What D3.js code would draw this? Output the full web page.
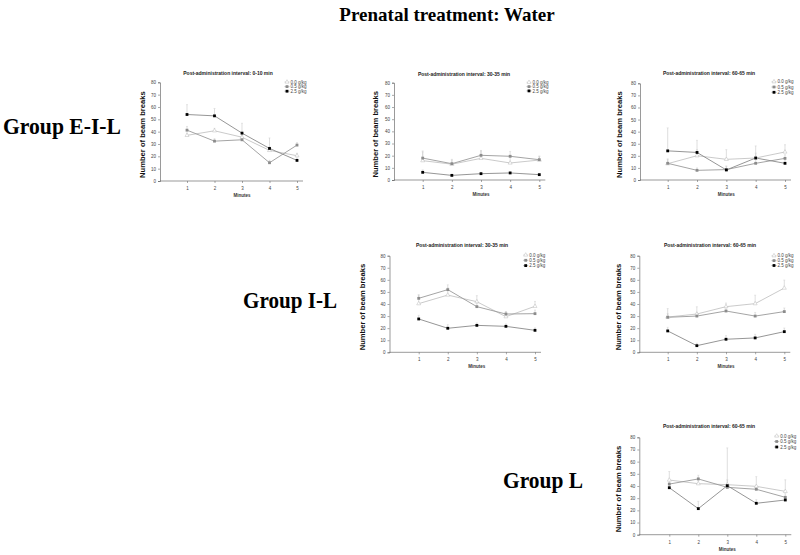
<!DOCTYPE html>
<html><head><meta charset="utf-8">
<script src="https://cdn.jsdelivr.net/npm/d3@7"></script>
<style>body{margin:0;background:#fff}svg{display:block}</style>
</head><body>
<svg id="c" width="800" height="555"></svg>
<script>
// ---- data ----
const minutes = [1, 2, 3, 4, 5];
const doses = ["0.0 g/kg", "0.5 g/kg", "2.5 g/kg"];
const yTicks = [0, 10, 20, 30, 40, 50, 60, 70, 80];
const mainTitle = "Prenatal treatment: Water";
const groups = ["Group E-I-L", "Group I-L", "Group L"];
const intervals = ["Post-administration interval: 0-10 min", "Post-administration interval: 30-35 min", "Post-administration interval: 60-65 min"];

// Group E-I-L, 0-10 min
const eil010_d00 = [37, 40.7, 35.5, 24.8, 20.5];
const eil010_d05 = [41.2, 32.3, 33.4, 14.8, 29.1];
const eil010_d25 = [53.9, 52.8, 38.8, 26.4, 16.7];
const eil010_e00 = [2, 2, 2, 3, 2];
const eil010_e05 = [3, 2, 2, 2, 2];
const eil010_e25 = [8, 6, 8, 8.5, 2];
// Group E-I-L, 30-35 min
const eil3035_d00 = [15.9, 13, 17.8, 14, 16.4];
const eil3035_d05 = [18, 13.4, 20.3, 19.5, 16.7];
const eil3035_d25 = [6.3, 3.8, 5.2, 5.8, 4.4];
const eil3035_e00 = [8, 4, 6, 5, 3];
const eil3035_e05 = [5, 3, 4, 4, 3];
const eil3035_e25 = [2, 1, 1, 1, 1];
// Group E-I-L, 60-65 min
const eil6065_d00 = [13.5, 20.1, 17.1, 18.2, 23.2];
const eil6065_d05 = [13.8, 8, 8.6, 13.8, 17.9];
const eil6065_d25 = [24.1, 22.8, 8.3, 18.2, 13.8];
const eil6065_e00 = [4, 5, 8, 10, 6];
const eil6065_e05 = [3, 2, 3, 3, 3];
const eil6065_e25 = [19, 10, 3, 4, 3];
// Group I-L, 30-35 min
const il3035_d00 = [40.3, 47.4, 41.9, 29.5, 38.1];
const il3035_d05 = [44.7, 51.9, 37.8, 31.7, 32];
const il3035_d25 = [27.6, 19.9, 22.3, 21.5, 18.2];
const il3035_e00 = [7, 6, 5, 4, 4];
const il3035_e05 = [3, 4, 3, 2, 3];
const il3035_e25 = [3, 3, 2, 2, 2];
// Group I-L, 60-65 min
const il6065_d00 = [29.2, 31.7, 37.8, 40.3, 53.2];
const il6065_d05 = [29, 30, 34.2, 30, 33.7];
const il6065_d25 = [17.7, 5.5, 10.8, 11.9, 17.1];
const il6065_e00 = [7, 6, 3, 7, 6.6];
const il6065_e05 = [3, 3, 3, 3, 3];
const il6065_e25 = [3, 2, 3, 3, 3];
// Group L, 60-65 min
const l6065_d00 = [44.9, 41.9, 41.1, 39.7, 35.6];
const l6065_d05 = [41.6, 45.8, 38.9, 37.3, 30.7];
const l6065_d25 = [38.6, 21.4, 40.3, 25.8, 28.5];
const l6065_e00 = [7, 5, 4, 8, 9.5];
const l6065_e05 = [3, 3, 3, 3, 3];
const l6065_e25 = [3, 6, 31, 3, 3];

// ---- drawing ----
const svg = d3.select("#c");
const serif = "'Liberation Serif','Times New Roman',serif";
const sans = "'Liberation Sans',Arial,sans-serif";

svg.append("text").attr("x", 447).attr("y", 21).attr("text-anchor", "middle")
  .attr("font-family", serif).attr("font-weight", "bold").attr("font-size", 19)
  .text(mainTitle);

const groupPos = [[3, 134, 118], [243, 308, 94], [503, 488, 80]];
groups.forEach((g, i) => {
  svg.append("text").attr("x", groupPos[i][0]).attr("y", groupPos[i][1])
    .attr("font-family", serif).attr("font-weight", "bold").attr("font-size", 23)
    .attr("textLength", groupPos[i][2]).attr("lengthAdjust", "spacingAndGlyphs")
    .text(g);
});

const lineCol = ["#c4c4c4", "#9a9a9a", "#8a8a8a"];
const errCol = "#d0d0d0";

function panel(p) {
  const g = svg.append("g");
  const x = d3.scaleLinear().domain([1, 5]).range([p.x1, p.x5]);
  const y = d3.scaleLinear().domain([0, 80]).range([p.y0, p.y80]);

  // y axis
  const ya = g.append("g").attr("transform", `translate(${p.ax},0)`)
    .call(d3.axisLeft(y).tickValues(yTicks).tickSize(2).tickPadding(2));
  ya.select(".domain").attr("stroke", "#555").attr("stroke-width", 0.6);
  ya.selectAll(".tick line").attr("stroke", "#555").attr("stroke-width", 0.5);
  ya.selectAll(".tick text").attr("font-size", 4.5).attr("font-family", sans).attr("fill", "#444");

  // x axis
  const xa = g.append("g").attr("transform", `translate(0,${p.y0})`)
    .call(d3.axisBottom(x).tickValues(minutes).tickSize(2).tickPadding(4).tickFormat(d3.format("d")));
  xa.select(".domain").remove();
  xa.append("line").attr("x1", p.ax).attr("x2", p.x5 + 6).attr("stroke", "#555").attr("stroke-width", 0.6);
  xa.selectAll(".tick line").attr("stroke", "#555").attr("stroke-width", 0.5);
  xa.selectAll(".tick text").attr("font-size", 4.5).attr("font-family", sans).attr("fill", "#444");

  // labels
  g.append("text").attr("x", p.tx).attr("y", p.ty).attr("text-anchor", "middle")
    .attr("font-family", sans).attr("font-weight", "bold").attr("font-size", 5).attr("fill", "#222")
    .text(p.title);
  g.append("text").attr("x", (p.x1 + p.x5) / 2).attr("y", p.y0 + 16).attr("text-anchor", "middle")
    .attr("font-family", sans).attr("font-weight", "bold").attr("font-size", 4.5).attr("fill", "#333")
    .text("Minutes");
  g.append("text").attr("transform", `translate(${p.lx},${(p.y0 + p.y80) / 2 + 3}) rotate(-90)`)
    .attr("text-anchor", "middle")
    .attr("font-family", sans).attr("font-weight", "bold").attr("font-size", 7.6).attr("fill", "#111")
    .text("Number of beam breaks");

  const line = d3.line().x((d, i) => x(minutes[i])).y(d => y(d));
  // error bars (upper)
  p.series.forEach((s, k) => {
    g.selectAll(null).data(s).enter().append("line")
      .attr("x1", (d, i) => x(minutes[i])).attr("x2", (d, i) => x(minutes[i]))
      .attr("y1", d => y(d)).attr("y2", (d, i) => y(d + p.errs[k][i]))
      .attr("stroke", errCol).attr("stroke-width", 0.7);
    g.selectAll(null).data(s).enter().append("line")
      .attr("x1", (d, i) => x(minutes[i]) - 1).attr("x2", (d, i) => x(minutes[i]) + 1)
      .attr("y1", (d, i) => y(d + p.errs[k][i])).attr("y2", (d, i) => y(d + p.errs[k][i]))
      .attr("stroke", errCol).attr("stroke-width", 0.5);
  });
  // lines
  p.series.forEach((s, k) => {
    g.append("path").datum(s).attr("d", line).attr("fill", "none")
      .attr("stroke", lineCol[k]).attr("stroke-width", 0.9);
  });
  // markers
  function marker(sel, k) {
    if (k === 0) {
      sel.append("path").attr("d", d3.symbol(d3.symbolTriangle, 7)())
        .attr("fill", "#fff").attr("stroke", "#bbb").attr("stroke-width", 0.5);
    } else {
      sel.append("rect").attr("x", -1.4).attr("y", -1.4).attr("width", 2.8).attr("height", 2.8)
        .attr("fill", k === 1 ? "#8c8c8c" : "#000");
    }
  }
  p.series.forEach((s, k) => {
    g.selectAll(null).data(s).enter().append("g")
      .attr("transform", (d, i) => `translate(${x(minutes[i])},${y(d)})`)
      .each(function () { marker(d3.select(this), k); });
  });
  // legend
  doses.forEach((d, k) => {
    const lg = g.append("g").attr("transform", `translate(${p.gx},${p.gy + k * p.gs})`);
    lg.append("line").attr("x1", -2.5).attr("x2", 2.5).attr("stroke", lineCol[k]).attr("stroke-width", 0.6);
    marker(lg, k);
    lg.append("text").attr("x", 3.5).attr("y", 1.6).attr("font-family", sans).attr("font-size", 4.5)
      .attr("fill", "#444").text(d);
  });
}

panel({ ax: 160, x1: 187, x5: 297, y80: 82.3, y0: 181, tx: 228, ty: 75, lx: 145,
  gx: 287, gy: 82, gs: 4.6, title: intervals[0],
  series: [eil010_d00, eil010_d05, eil010_d25], errs: [eil010_e00, eil010_e05, eil010_e25] });
panel({ ax: 394, x1: 422.7, x5: 539.3, y80: 82.7, y0: 180, tx: 464, ty: 76, lx: 378,
  gx: 529, gy: 82.3, gs: 4.3, title: intervals[1],
  series: [eil3035_d00, eil3035_d05, eil3035_d25], errs: [eil3035_e00, eil3035_e05, eil3035_e25] });
panel({ ax: 640, x1: 667.7, x5: 785, y80: 83.3, y0: 180, tx: 709, ty: 75, lx: 622,
  gx: 774, gy: 81.7, gs: 5.3, title: intervals[2],
  series: [eil6065_d00, eil6065_d05, eil6065_d25], errs: [eil6065_e00, eil6065_e05, eil6065_e25] });
panel({ ax: 389.5, x1: 418.7, x5: 535, y80: 255.7, y0: 352.3, tx: 462, ty: 247, lx: 365,
  gx: 525.7, gy: 255, gs: 5.3, title: intervals[1],
  series: [il3035_d00, il3035_d05, il3035_d25], errs: [il3035_e00, il3035_e05, il3035_e25] });
panel({ ax: 639.3, x1: 667.7, x5: 784.3, y80: 255.7, y0: 352.3, tx: 710, ty: 247, lx: 621,
  gx: 774, gy: 255.7, gs: 4.9, title: intervals[2],
  series: [il6065_d00, il6065_d05, il6065_d25], errs: [il6065_e00, il6065_e05, il6065_e25] });
panel({ ax: 639.3, x1: 669.3, x5: 785.3, y80: 437.3, y0: 534.7, tx: 709, ty: 428, lx: 621,
  gx: 776.7, gy: 436, gs: 5.5, title: intervals[2],
  series: [l6065_d00, l6065_d05, l6065_d25], errs: [l6065_e00, l6065_e05, l6065_e25] });
</script>
</body></html>
